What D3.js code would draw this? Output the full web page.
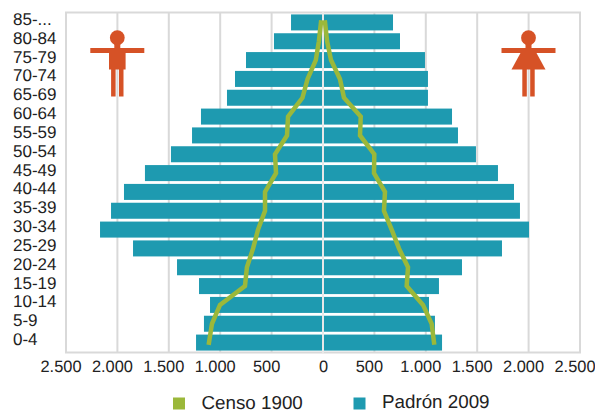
<!DOCTYPE html>
<html lang="es">
<head>
<meta charset="UTF-8"/>
<title>Pirámide de población</title>
<script src="https://d3js.org/d3.v7.min.js"></script>
<style>
  html, body { margin: 0; padding: 0; background: #fff; }
  text { font-family: "Liberation Sans", Arial, sans-serif; fill: #222; text-rendering: geometricPrecision; }
</style>
</head>
<body>
<script>
var ageGroups = ["85-...", "80-84", "75-79", "70-74", "65-69", "60-64", "55-59", "50-54", "45-49",
                 "40-44", "35-39", "30-34", "25-29", "20-24", "15-19", "10-14", "5-9", "0-4"];

var padronMen   = [311, 477, 749, 856, 934, 1187, 1274, 1479, 1732, 1936, 2062, 2169, 1848, 1420, 1206, 1099, 1158, 1235];
var padronWomen = [681, 749, 992, 1021, 1021, 1255, 1313, 1488, 1702, 1858, 1916, 2004, 1741, 1352, 1128, 1031, 1089, 1158];
var censoMen    = [20, 40, 70, 150, 200, 340, 350, 467, 457, 564, 564, 632, 680, 740, 759, 1002, 1080, 1109];
var censoWomen  = [20, 40, 78, 165, 204, 367, 360, 499, 496, 603, 593, 668, 739, 827, 814, 973, 1057, 1080];

var xTicks = [-2500, -2000, -1500, -1000, -500, 0, 500, 1000, 1500, 2000, 2500];
var legendNames = ["Censo 1900", "Padrón 2009"];

var w = 595, h = 412;
var teal = "#1e9ab0", green = "#9bb83a", orange = "#d65226", grid = "#d9d9d9";

var svg = d3.select("body").append("svg")
    .attr("width", w)
    .attr("height", h)
    .style("display", "block");

var x = d3.scaleLinear().domain([-2500, 2500]).range([66, 580]);
var y = d3.scaleBand().domain(ageGroups).range([13, 352]).paddingInner(0.15).paddingOuter(0.075);

// grid and frame
svg.selectAll("line.grid")
    .data(xTicks)
    .enter()
    .append("line")
    .attr("class", "grid")
    .attr("x1", function(d) { return x(d); })
    .attr("x2", function(d) { return x(d); })
    .attr("y1", 12)
    .attr("y2", 353)
    .attr("stroke", grid)
    .attr("stroke-width", 2);

[12.5, 352.5].forEach(function(yy) {
    svg.append("line")
        .attr("x1", x(-2500) - 1).attr("x2", x(2500) + 1)
        .attr("y1", yy).attr("y2", yy)
        .attr("stroke", grid).attr("stroke-width", 2);
});

// bars
svg.selectAll("rect.men")
    .data(padronMen)
    .enter()
    .append("rect")
    .attr("class", "men")
    .attr("x", function(d) { return x(-d); })
    .attr("y", function(d, i) { return y(ageGroups[i]); })
    .attr("width", function(d) { return x(0) - x(-d); })
    .attr("height", y.bandwidth())
    .attr("fill", teal);

svg.selectAll("rect.women")
    .data(padronWomen)
    .enter()
    .append("rect")
    .attr("class", "women")
    .attr("x", x(0))
    .attr("y", function(d, i) { return y(ageGroups[i]); })
    .attr("width", function(d) { return x(d) - x(0); })
    .attr("height", y.bandwidth())
    .attr("fill", teal);

// white centre line over the bars
svg.append("line")
    .attr("x1", x(0)).attr("x2", x(0))
    .attr("y1", 12).attr("y2", 353)
    .attr("stroke", "#e8e8e8")
    .attr("stroke-width", 2);

// censo lines
var line = d3.line()
    .x(function(d) { return d.x; })
    .y(function(d) { return d.y; });

[[censoMen, -1], [censoWomen, 1]].forEach(function(s) {
    var pts = s[0].map(function(v, i) {
        return { x: x(s[1] * v), y: y(ageGroups[i]) + y.bandwidth() / 2 };
    });
    svg.append("path")
        .attr("d", line(pts))
        .attr("fill", "none")
        .attr("stroke", green)
        .attr("stroke-width", 4.5)
        .attr("stroke-linecap", "square")
        .attr("stroke-linejoin", "miter");
});

// axes labels
var xAxis = d3.axisBottom(x)
    .tickValues(xTicks)
    .tickSize(0)
    .tickPadding(0)
    .tickFormat(function(d) { return Math.abs(d).toString().replace(/(\d)(\d{3})$/, "$1.$2"); });

var gx = svg.append("g")
    .attr("transform", "translate(0,360)")
    .call(xAxis);
gx.select(".domain").remove();
// labels sit a little left of their gridline, except the 0
gx.selectAll("text")
    .attr("font-size", 16.4)
    .attr("dx", function(d) { return d == 0 ? 0 : -5.5; })
    .style("font-family", null);

var yAxis = d3.axisLeft(y).tickSize(0).tickPadding(0);
var gy = svg.append("g")
    .attr("transform", "translate(13,-3)")
    .call(yAxis);
gy.select(".domain").remove();
gy.selectAll("text").attr("text-anchor", "start").attr("font-size", 17).style("font-family", null);

// legend
var legendX = [173, 353.5];
var legendY = [409, 408];
legendNames.forEach(function(name, i) {
    svg.append("rect")
        .attr("x", legendX[i])
        .attr("y", 397.5)
        .attr("width", 12)
        .attr("height", 12)
        .attr("fill", i == 0 ? green : teal);
    svg.append("text")
        .attr("x", legendX[i] + 28.5)
        .attr("y", legendY[i])
        .attr("font-size", 18.8)
        .text(name);
});

// pictograms
function person(cx, female) {
    var g = svg.append("g").attr("fill", orange);
    g.append("circle").attr("cx", cx).attr("cy", 37.7).attr("r", 7.4);
    g.append("rect").attr("x", cx - 27).attr("y", 48).attr("width", 54).attr("height", 5);
    g.append("rect").attr("x", cx - 3).attr("y", 43).attr("width", 6).attr("height", 6);
    if (female) {
        g.append("path").attr("d", "M" + (cx - 8) + " 53L" + (cx + 8) + " 53L" + (cx + 17) + " 69.5L" + (cx - 17) + " 69.5Z");
    } else {
        g.append("rect").attr("x", cx - 8.3).attr("y", 50).attr("width", 16.6).attr("height", 19.5);
    }
    g.append("rect").attr("x", cx - 6.2).attr("y", 69).attr("width", 4.5).attr("height", 27.5);
    g.append("rect").attr("x", cx + 1.7).attr("y", 69).attr("width", 4.5).attr("height", 27.5);
}
person(117.3, false);
person(528.5, true);
</script>
</body>
</html>
